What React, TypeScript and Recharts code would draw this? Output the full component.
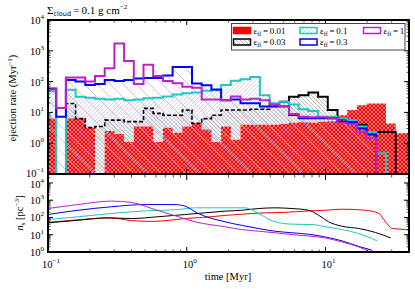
import { Area, ComposedChart, Line, LineChart, XAxis, YAxis } from "recharts"

const SERIF = '"Liberation Serif", "DejaVu Serif", serif'
const SANS = '"DejaVu Sans", sans-serif'

// histogram bin edges in Myr (log-spaced, 38 bins)
const binEdges = [
  0.0975, 0.1146, 0.1346, 0.1581, 0.1857, 0.2182, 0.2563, 0.3011, 0.3537, 0.4155,
  0.488, 0.5732, 0.6733, 0.7909, 0.9291, 1.091, 1.282, 1.506, 1.769, 2.078,
  2.441, 2.867, 3.368, 3.956, 4.647, 5.459, 6.412, 7.534, 8.85, 10.39,
  12.21, 14.34, 16.85, 19.79, 23.25, 27.31, 32.08, 37.68, 44.26,
]

// ejection rate per bin (Myr^-1), 0 = empty bin
const rateRed = [
  6.3, 0, 6.3, 6.3, 3.2, 0, 2.5, 2.0, 1.1, 3.5, 3.5, 1.1, 3.2, 2.2, 3.5, 4.5, 2.8, 1.1, 3.5,
  1.3, 4.0, 4.0, 4.0, 4.0, 4.2, 4.6, 4.8, 4.6, 5.0, 5.2, 8.1, 12, 17, 19.5, 19.5, 4.4, 2.1, 2.1,
]
const rateBlack = [
  0, 0, 19.5, 6.3, 3.2, 3.5, 5.6, 5.6, 5.0, 5.0, 13.5, 9.3, 8.1, 8.1, 12, 4.4, 6.3, 8.1, 12,
  12, 12, 12.6, 12.6, 17.8, 22, 32, 36, 44, 32, 12, 6.0, 5.2, 4.0, 2.3, 2.3, 2.3, 0, 0,
]
const rateCyan = [
  49, 0, 54, 32, 30, 28, 26, 28, 25, 26, 29, 30, 33, 38, 42, 44, 50, 52, 78,
  107, 120, 141, 36, 20, 22, 18, 12.6, 11.2, 7.2, 7.2, 6.3, 5.6, 3.5, 2.3, 0.47, 0, 0, 0,
]
const rateBlue = [
  60, 7.2, 112, 100, 78, 83, 112, 105, 112, 126, 132, 132, 158, 300, 300, 87, 76, 55, 25,
  26, 20, 20, 15.5, 15.5, 15.5, 8.3, 6.5, 6.5, 6.5, 6.5, 5.0, 4.8, 3.0, 1.9, 0, 0, 0, 0,
]
const rateMagenta = [
  56, 14, 135, 135, 100, 151, 269, 1740, 468, 83, 355, 151, 105, 89, 68, 63, 26, 26, 25,
  33, 26, 28, 25, 18, 16, 8.9, 7.2, 6.9, 6.9, 6.3, 4.5, 4.2, 2.3, 1.45, 0, 0, 0, 0,
]
// black outline looks dashed where the cyan hatch sits over it
const BLACK_SOLID_FROM = 24

// stellar density n_s (pc^-3) vs time (Myr)
const nsTimeRed = [0.1, 0.16, 0.28, 0.4, 0.55, 0.75, 1.0, 1.3, 1.89, 2.49, 3.68, 4.85, 7.56, 10, 13.2, 19.4, 24.3, 27.1, 30.3, 37.8, 41]
const nsRed = [52, 72, 95, 66, 59, 69, 89, 100, 132, 155, 186, 195, 240, 263, 302, 263, 170, 56, 23, 20, 18]
const nsTimeBlack = [0.1, 0.164, 0.27, 0.4, 0.62, 0.97, 1.35, 1.89, 2.49, 3.29, 4.34, 5.73, 7.56, 8.93, 10.55, 13.18, 17.39, 22.96, 29.5]
const nsBlack = [49, 69, 95, 87, 110, 148, 186, 234, 263, 331, 363, 331, 263, 135, 56, 31, 23, 13.5, 6.5]
const nsTimeCyan = [0.1, 0.164, 0.286, 0.5, 0.87, 1.15, 2.0, 2.64, 3.29, 4.34, 5.73, 8.0, 10, 13.18, 17.39, 23.6]
const nsCyan = [76, 110, 170, 240, 288, 363, 363, 363, 170, 56, 41, 39, 29, 20, 11.7, 4.4]
const nsTimeBlue = [0.1, 0.164, 0.286, 0.5, 0.82, 0.97, 1.21, 1.89, 2.49, 3.29, 4.34, 5.73, 7.56, 10, 13.18, 17.39, 21.7]
const nsBlue = [148, 263, 417, 562, 562, 457, 170, 56, 35, 23, 16, 13, 10.7, 7.4, 4.4, 2.1, 1.26]
const nsTimeMagenta = [0.1, 0.164, 0.286, 0.4, 0.59, 0.87, 1.15, 1.89, 2.49, 3.29, 4.34, 5.73, 7.56, 10, 13.18, 17.39, 20.5]
const nsMagenta = [331, 562, 891, 741, 288, 110, 56, 29, 20, 16, 13, 10.2, 8.5, 6.5, 3.8, 1.95, 1.15]

const effLabels = ["0.01", "0.03", "0.1", "0.3", "1"]

const xDecades = [0.1, 1, 10]
const topYDecades = [0.1, 1, 10, 100, 1000, 10000]
const botYDecades = [1, 10, 100, 1000, 10000]

const X_DOMAIN: [number, number] = [0.1, 40]
const TOP_DOMAIN: [number, number] = [0.1, 10000]
const BOT_DOMAIN: [number, number] = [1, 29000]

const ZERO = 1e-3 // empty bin -> below axis, clipped

const C = {
  red: "#ff0000",
  black: "#000000",
  cyan: "#22c4c4",
  blue: "#0000ff",
  magenta: "#c020c8",
}

const PLOT_W = 361
const TOP_H = 154
const BOT_H = 77

function logTicks(decades: number[], max: number) {
  const out: number[] = []
  decades.forEach((d) => {
    out.push(d)
    for (let m = 2; m <= 9; m++) if (m * d <= max) out.push(+(m * d).toPrecision(3))
  })
  return out
}

function expText(v: number) {
  const e = Math.round(Math.log10(v))
  return e < 0 ? `\u2212${-e}` : `${e}`
}

function isMajor(v: number) {
  const lg = Math.log10(v)
  return Math.abs(lg - Math.round(lg)) < 1e-6
}

function LogYTick(props: any) {
  const { x, y, payload, plotW, nudge } = props
  const v = payload.value as number
  const major = isMajor(v)
  const len = major ? 5 : 2.5
  const sw = major ? 1 : 0.7
  const dy = nudge?.[v] ?? 0
  return (
    <g>
      <line x1={x} x2={x + len} y1={y} y2={y} stroke="#000" strokeWidth={sw} />
      <line x1={x + plotW} x2={x + plotW - len} y1={y} y2={y} stroke="#000" strokeWidth={sw} />
      {major && (
        <text x={x - 4} y={y + 4 + dy} textAnchor="end" fontFamily={SERIF} fontSize={10.5} fill="#000">
          10
          <tspan dy={-5} fontSize={7}>
            {expText(v)}
          </tspan>
        </text>
      )}
    </g>
  )
}

function LogXTick(props: any) {
  const { x, y, payload, plotH, showLabel } = props
  const v = payload.value as number
  const major = isMajor(v)
  const len = major ? 5 : 2.5
  const sw = major ? 1 : 0.7
  return (
    <g>
      <line x1={x} x2={x} y1={y} y2={y - len} stroke="#000" strokeWidth={sw} />
      <line x1={x} x2={x} y1={y - plotH} y2={y - plotH + len} stroke="#000" strokeWidth={sw} />
      {major && showLabel && (
        <text x={x + 3} y={y + 16} textAnchor="middle" fontFamily={SERIF} fontSize={10.5} fill="#000">
          10
          <tspan dy={-5} fontSize={7}>
            {expText(v)}
          </tspan>
        </text>
      )}
    </g>
  )
}

function histRows() {
  const last = rateRed.length - 1
  return binEdges.map((t, i) => {
    const k = Math.min(i, last)
    const pick = (arr: number[]) => (arr[k] > 0 ? arr[k] : ZERO)
    return {
      t,
      red: pick(rateRed),
      black: pick(rateBlack),
      blackDash: i <= BLACK_SOLID_FROM ? pick(rateBlack) : null,
      blackSolid: i >= BLACK_SOLID_FROM ? pick(rateBlack) : null,
      cyan: pick(rateCyan),
      blue: pick(rateBlue),
      magenta: pick(rateMagenta),
    }
  })
}

function pairs(ts: number[], ns: number[]) {
  return ts.map((t, i) => ({ t, n: ns[i] }))
}

function Patterns() {
  return (
    <svg width={0} height={0} style={{ position: "absolute", left: 0, top: 0 }}>
      <defs>
        <pattern id="fillRed" patternUnits="userSpaceOnUse" width={4} height={4}>
          <rect width={4} height={4} fill={C.red} />
          <path d="M0,0L4,4M4,0L0,4" stroke="#ffc6cf" strokeWidth={0.6} />
        </pattern>
        <pattern id="hatchBlack" patternUnits="userSpaceOnUse" width={4} height={4}>
          <path d="M0,0L4,4M-1,3L1,5M3,-1L5,1" stroke="#8c8c8c" strokeWidth={0.6} />
        </pattern>
        <pattern id="hatchCyan" patternUnits="userSpaceOnUse" width={4} height={4}>
          <path d="M0,4L4,0M-1,1L1,-1M3,5L5,3" stroke="#86d9dc" strokeWidth={0.6} />
        </pattern>
        <pattern id="hatchBlue" patternUnits="userSpaceOnUse" width={13} height={13}>
          <path d="M0,0L13,13M-1,12L1,14M12,-1L14,1" stroke="#a9a9ff" strokeWidth={0.7} />
        </pattern>
      </defs>
    </svg>
  )
}

function Eps({ x, y, label }: { x: number; y: number; label: string }) {
  return (
    <text x={x} y={y} fontFamily={SERIF} fontSize={9} fill="#000">
      ε
      <tspan dy={2} fontSize={6}>
        ff
      </tspan>
      <tspan dy={-2}>{`\u2009=\u2009${label}`}</tspan>
    </text>
  )
}

function Overlay() {
  const sw = { w: 17, h: 6 }
  const swatches = [
    { x: 233.5, y: 27.5, fill: C.red, stroke: C.red, label: effLabels[0] },
    { x: 233.5, y: 39, fill: "url(#hatchBlack)", stroke: C.black, label: effLabels[1] },
    { x: 300, y: 27.5, fill: "url(#hatchCyan)", stroke: C.cyan, label: effLabels[2] },
    { x: 300, y: 39, fill: "#fff", stroke: C.blue, label: effLabels[3] },
    { x: 363.5, y: 27.5, fill: "#fff", stroke: C.magenta, label: effLabels[4] },
  ]
  return (
    <svg width={415} height={289} style={{ position: "absolute", left: 0, top: 0 }}>
      <text x={47} y={13.5} fontFamily={SERIF} fontSize={11} fill="#000">
        Σ
        <tspan dy={2} fontFamily={SANS} fontSize={6.5}>
          cloud
        </tspan>
        <tspan dy={-2}>{"\u2009=\u20090.1 g cm"}</tspan>
        <tspan dy={-5} fontSize={7}>
          −2
        </tspan>
      </text>

      <text
        transform="translate(16,98) rotate(-90)"
        textAnchor="middle"
        fontFamily={SERIF}
        fontSize={10.5}
        fill="#000"
      >
        ejection rate (Myr
        <tspan dy={-4} fontSize={7}>
          −1
        </tspan>
        <tspan dy={4}>)</tspan>
      </text>
      <text
        transform="translate(23,213) rotate(-90)"
        textAnchor="middle"
        fontFamily={SERIF}
        fontSize={10.5}
        fill="#000"
      >
        <tspan fontStyle="italic">n</tspan>
        <tspan dy={2} fontSize={7}>
          s
        </tspan>
        <tspan dy={-2}>{" [pc"}</tspan>
        <tspan dy={-4} fontSize={7}>
          −3
        </tspan>
        <tspan dy={4}>]</tspan>
      </text>
      <text x={228} y={280} textAnchor="middle" fontFamily={SERIF} fontSize={10.5} fill="#000">
        time [Myr]
      </text>

      {/* legend */}
      <rect x={231.5} y={23.5} width={173.5} height={26.5} fill="#fff" stroke="#444" strokeWidth={1} />
      {swatches.map((s) => (
        <g key={s.label}>
          <rect x={s.x} y={s.y} width={sw.w} height={sw.h} fill={s.fill} stroke={s.stroke} strokeWidth={1.5} />
          <Eps x={s.x + sw.w + 3} y={s.y + 6} label={s.label} />
        </g>
      ))}
    </svg>
  )
}

function Frames() {
  const box = { position: "absolute" as const, border: "2px solid #000", boxSizing: "border-box" as const }
  return (
    <>
      <div style={{ ...box, left: 47, top: 19, width: PLOT_W + 2, height: TOP_H + 2 }} />
      <div style={{ ...box, left: 47, top: 173, width: PLOT_W + 2, height: BOT_H + 3 }} />
    </>
  )
}

export default function App() {
  const rows = histRows()
  const xTicks = logTicks(xDecades, 40)
  const topTicks = logTicks(topYDecades, 10000)
  const botTicks = logTicks(botYDecades, 29000)

  return (
    <div style={{ position: "absolute", left: 0, top: 0, width: 415, height: 289, background: "#fff", overflow: "hidden" }}>
      <Patterns />
      <div style={{ position: "absolute", left: 0, top: 175 }}>
        <LineChart width={415} height={114} margin={{ top: 0, right: 6, bottom: 7, left: 0 }}>
          <XAxis
            dataKey="t"
            type="number"
            scale="log"
            domain={X_DOMAIN}
            allowDataOverflow
            ticks={xTicks}
            interval={0}
            height={30}
            tickSize={0}
            tickMargin={0}
            axisLine={false}
            tickLine={false}
            tick={<LogXTick plotH={BOT_H} showLabel />}
          />
          <YAxis
            type="number"
            scale="log"
            domain={BOT_DOMAIN}
            allowDataOverflow
            ticks={botTicks}
            interval={0}
            width={48}
            tickSize={0}
            tickMargin={0}
            axisLine={false}
            tickLine={false}
            tick={<LogYTick plotW={PLOT_W} nudge={{ 10000: 1.5 }} />}
          />
          <Line data={pairs(nsTimeRed, nsRed)} dataKey="n" type="monotone" stroke={C.red} strokeWidth={1} dot={false} isAnimationActive={false} />
          <Line data={pairs(nsTimeBlack, nsBlack)} dataKey="n" type="monotone" stroke={C.black} strokeWidth={1} dot={false} isAnimationActive={false} />
          <Line data={pairs(nsTimeCyan, nsCyan)} dataKey="n" type="monotone" stroke={C.cyan} strokeWidth={1} dot={false} isAnimationActive={false} />
          <Line data={pairs(nsTimeBlue, nsBlue)} dataKey="n" type="monotone" stroke={C.blue} strokeWidth={1} dot={false} isAnimationActive={false} />
          <Line data={pairs(nsTimeMagenta, nsMagenta)} dataKey="n" type="monotone" stroke={C.magenta} strokeWidth={1} dot={false} isAnimationActive={false} />
        </LineChart>
      </div>
      <div style={{ position: "absolute", left: 0, top: 0 }}>
        <ComposedChart width={415} height={185} data={rows} margin={{ top: 20, right: 6, bottom: 0, left: 0 }}>
          <XAxis
            dataKey="t"
            type="number"
            scale="log"
            domain={X_DOMAIN}
            allowDataOverflow
            ticks={xTicks}
            interval={0}
            height={11}
            tickSize={0}
            tickMargin={0}
            axisLine={false}
            tickLine={false}
            tick={<LogXTick plotH={TOP_H} showLabel={false} />}
          />
          <YAxis
            type="number"
            scale="log"
            domain={TOP_DOMAIN}
            allowDataOverflow
            ticks={topTicks}
            interval={0}
            width={48}
            tickSize={0}
            tickMargin={0}
            axisLine={false}
            tickLine={false}
            tick={<LogYTick plotW={PLOT_W} nudge={{ 0.1: -1.5 }} />}
          />
          <Area type="stepAfter" dataKey="cyan" baseValue={ZERO} stroke="none" fill="url(#hatchCyan)" fillOpacity={1} isAnimationActive={false} />
          <Area type="stepAfter" dataKey="black" baseValue={ZERO} stroke="none" fill="url(#hatchBlack)" fillOpacity={1} isAnimationActive={false} />
          <Area type="stepAfter" dataKey="red" baseValue={ZERO} stroke="none" fill="url(#fillRed)" fillOpacity={1} isAnimationActive={false} />
          <Area type="stepAfter" dataKey="blue" baseValue={ZERO} stroke="none" fill="url(#hatchBlue)" fillOpacity={1} isAnimationActive={false} />
          <Line type="stepAfter" dataKey="blackDash" stroke={C.black} strokeWidth={1.6} strokeDasharray="4 2" dot={false} isAnimationActive={false} />
          <Line type="stepAfter" dataKey="blackSolid" stroke={C.black} strokeWidth={2} dot={false} isAnimationActive={false} />
          <Line type="stepAfter" dataKey="cyan" stroke={C.cyan} strokeWidth={2} dot={false} isAnimationActive={false} />
          <Line type="stepAfter" dataKey="blue" stroke={C.blue} strokeWidth={2} dot={false} isAnimationActive={false} />
          <Line type="stepAfter" dataKey="magenta" stroke={C.magenta} strokeWidth={2} dot={false} isAnimationActive={false} />
        </ComposedChart>
      </div>
      <Frames />
      <Overlay />
    </div>
  )
}
